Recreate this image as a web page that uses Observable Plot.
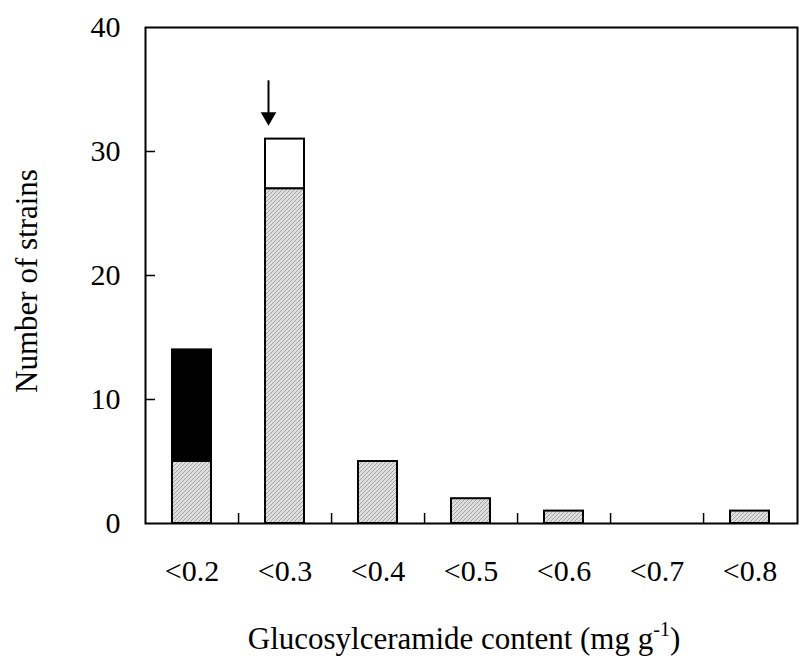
<!DOCTYPE html>
<html>
<head>
<meta charset="utf-8">
<script src="https://cdn.jsdelivr.net/npm/d3@7"></script>
<script src="https://cdn.jsdelivr.net/npm/@observablehq/plot@0.6"></script>
<style>
  html, body { margin: 0; padding: 0; background: white; }
</style>
</head>
<body>
<div id="chart"></div>
<script>
// ---- data ----
const categories = ["<0.2", "<0.3", "<0.4", "<0.5", "<0.6", "<0.7", "<0.8"];
const hatchedCounts = [5, 27, 5, 2, 1, 0, 1];
const solidCounts = [9, 0, 0, 0, 0, 0, 0];
const openCounts = [0, 4, 0, 0, 0, 0, 0];
const yTicks = [0, 10, 20, 30, 40];
const arrowCategory = "<0.3";
const arrowTop = 35.7;
const arrowBase = 33.0;
const arrowHead = 32.8;
const xTitle = "Glucosylceramide content (mg g";
const xTitleSup = "-1";
const yTitle = "Number of strains";

// ---- layout ----
const W = 801, H = 661;
const mL = 145, mR = 4, mT = 27, mB = 138;
const plotW = W - mL - mR, plotH = H - mT - mB;
const step = plotW / categories.length;

const rows = [];
categories.forEach((c, i) => {
  if (hatchedCounts[i] > 0) rows.push({cat: c, part: "hatched", value: hatchedCounts[i]});
  if (solidCounts[i] > 0) rows.push({cat: c, part: "solid", value: solidCounts[i]});
  if (openCounts[i] > 0) rows.push({cat: c, part: "open", value: openCounts[i]});
});

const chart = Plot.plot({
  width: W, height: H,
  marginLeft: mL, marginRight: mR, marginTop: mT, marginBottom: mB,
  style: {fontFamily: "'Liberation Serif', 'Times New Roman', serif", fontSize: "30px", background: "white", color: "black"},
  x: {domain: categories, paddingInner: 0.58, paddingOuter: 0.29, label: null},
  y: {domain: [0, 40], label: null},
  color: {type: "ordinal", domain: ["hatched", "solid", "open"], range: ["url(#hatch)", "black", "white"]},
  marks: [
    Plot.barY(rows, Plot.stackY({x: "cat", y: "value", fill: "part", order: null, stroke: "black", strokeWidth: 2})),
    Plot.tickY(yTicks.slice(1, -1), {y: d => d, stroke: "black", strokeWidth: 1.5, insetRight: plotW - 10}),
    Plot.tickX(categories.slice(0, -1), {x: d => d, dx: step / 2, stroke: "black", strokeWidth: 1.5, insetTop: plotH - 10}),
    Plot.axisY({ticks: yTicks, tickSize: 0, tickPadding: 25, tickFormat: d => String(d), fontSize: 30, label: null}),
    Plot.axisX({tickSize: 0, tickPadding: 36, fontSize: 30, label: null}),
    Plot.ruleX([arrowCategory], {x: d => d, y1: arrowTop, y2: arrowBase, dx: -16.5, stroke: "black", strokeWidth: 2}),
    Plot.dot([arrowCategory], {x: d => d, y: arrowHead, dx: -16.5, symbol: "triangle", rotate: 180, r: 5.8, fill: "black", stroke: "none"}),
    Plot.frame({stroke: "black", strokeWidth: 2})
  ]
});

const svg = d3.select(chart);
const defs = svg.insert("defs", ":first-child");
const pat = defs.append("pattern")
  .attr("id", "hatch").attr("patternUnits", "userSpaceOnUse")
  .attr("width", 4).attr("height", 4);
pat.append("rect").attr("width", 4).attr("height", 4).attr("fill", "#dedede");
[[0, 3], [1, 2], [2, 1], [3, 0]].forEach(([px, py]) => {
  pat.append("rect").attr("x", px).attr("y", py).attr("width", 1).attr("height", 1)
    .attr("fill", "#a4a4a4").attr("shape-rendering", "crispEdges");
});

// axis titles
const xt = svg.append("text")
  .attr("x", 464).attr("y", 649)
  .attr("text-anchor", "middle")
  .attr("font-family", "'Liberation Serif', 'Times New Roman', serif")
  .attr("font-size", 31).attr("fill", "black");
xt.append("tspan").text(xTitle);
xt.append("tspan").attr("font-size", 20).attr("dy", -13).text(xTitleSup);
xt.append("tspan").attr("dy", 13).text(")");

svg.append("text")
  .attr("transform", "translate(37,281) rotate(-90)")
  .attr("text-anchor", "middle")
  .attr("font-family", "'Liberation Serif', 'Times New Roman', serif")
  .attr("font-size", 31).attr("fill", "black")
  .text(yTitle);

document.getElementById("chart").appendChild(chart);
</script>
</body>
</html>
